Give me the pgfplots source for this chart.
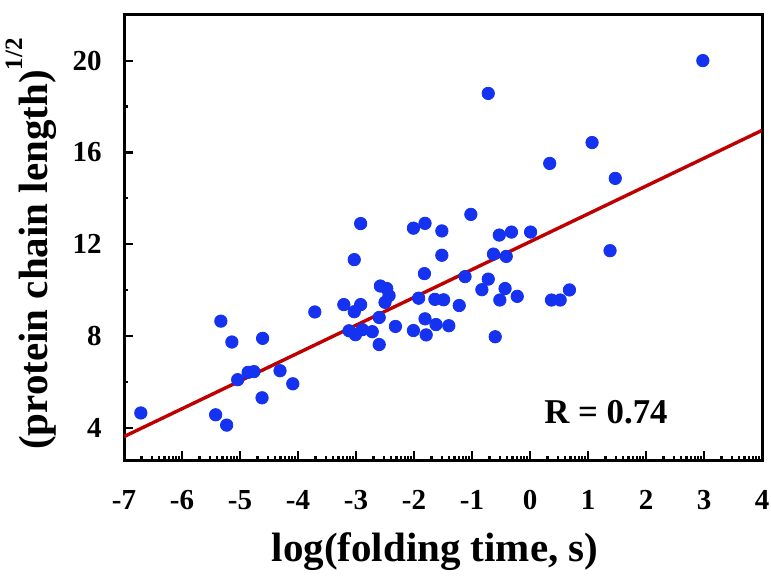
\documentclass[border=0pt]{standalone}
\usepackage{fontspec}
\setmainfont{Liberation Serif}
\usepackage{pgfplots}
\pgfplotsset{compat=1.18}

\definecolor{dotblue}{RGB}{20,50,240}
\definecolor{fitred}{RGB}{190,0,0}

% log-style minor ticks on x, 2..9 inside every unit
\def\mlist{}
\foreach \n in {-7,...,3}{\foreach \m in {2,...,9}{%
  \pgfmathsetmacro\v{\n+log10(\m)}\xdef\mlist{\mlist\v,}}}
\xdef\mlist{\mlist 4}

\begin{document}
\begin{tikzpicture}
\begin{axis}[
  scale only axis,
  width=319pt, height=222.65pt,
  xmin=-7, xmax=4, ymin=2.6, ymax=22,
  xtick={-7,...,4}, ytick={4,8,12,16,20},
  minor xtick/.expanded=\mlist,
  minor ytick={6,10,14,18},
  xtick pos=left, ytick pos=left,
  tick align=inside,
  major tick length=4.5pt, minor tick length=2pt,
  every tick/.style={black, line width=1.1pt},
  axis line style={line width=1.5pt},
  /pgf/number format/assume math mode=true,
  tick label style={font=\fontsize{14.5}{17}\selectfont\bfseries, inner sep=0pt},
  xticklabel style={anchor=north, yshift=-15pt},
  yticklabel style={anchor=east, xshift=-11pt},
  xlabel={log(folding time, s)},
  ylabel={(protein chain length)\raisebox{0.62em}{\fontsize{12.5}{14}\selectfont 1/2}},
  label style={font=\fontsize{20.5}{24}\selectfont\bfseries, inner sep=0pt},
  x label style={at={(axis description cs:0.4875,0)}, anchor=north, yshift=-36pt},
  y label style={at={(axis description cs:0,0.485)}, rotate=0, anchor=south, yshift=33.5pt},
]
\addplot[only marks, mark=*, mark size=3.1pt, color=dotblue] coordinates {
  (-6.71,4.65) (-5.42,4.57) (-5.23,4.12) (-5.33,8.65) (-5.14,7.74)
  (-4.61,7.90) (-5.04,6.10) (-4.86,6.42) (-4.76,6.45) (-4.31,6.49)
  (-4.09,5.92) (-4.62,5.31) (-3.71,9.05) (-3.21,9.37) (-2.92,9.37)
  (-3.03,9.06) (-3.03,11.33) (-2.92,12.90) (-3.12,8.23) (-3.01,8.06)
  (-2.89,8.28) (-2.72,8.19) (-2.60,7.63) (-2.58,10.18) (-2.47,10.07)
  (-2.43,9.76) (-2.50,9.47) (-2.60,8.81) (-2.32,8.42) (-2.01,8.24)
  (-2.01,12.70) (-1.81,12.91) (-1.52,12.58) (-1.52,11.52) (-1.02,13.30)
  (-1.82,10.72) (-1.12,10.59) (-1.92,9.65) (-1.64,9.60) (-1.49,9.58)
  (-1.22,9.33) (-1.81,8.75) (-1.79,8.05) (-1.62,8.50) (-1.40,8.45)
  (-0.72,18.57) (2.98,20.00) (1.07,16.43) (0.34,15.52) (1.47,14.87)
  (-0.53,12.40) (-0.32,12.53) (0.01,12.53) (-0.63,11.57) (-0.41,11.47)
  (1.38,11.72) (-0.72,10.48) (-0.83,10.02) (-0.43,10.07) (-0.52,9.57)
  (-0.22,9.73) (0.37,9.57) (0.52,9.57) (0.68,10.01) (-0.60,7.97)
};
\addplot[fitred, line width=1.7pt] coordinates {(-7,3.62) (4,16.96)};
\node[font=\fontsize{17.4}{20}\selectfont\bfseries] at (axis cs:1.31,4.70) {R = 0.74};
\end{axis}
\pgfresetboundingbox
\path ([shift={(-62pt,-59pt)}]current axis.south west) rectangle ([shift={(4.5pt,7.35pt)}]current axis.north east);
\end{tikzpicture}
\end{document}
